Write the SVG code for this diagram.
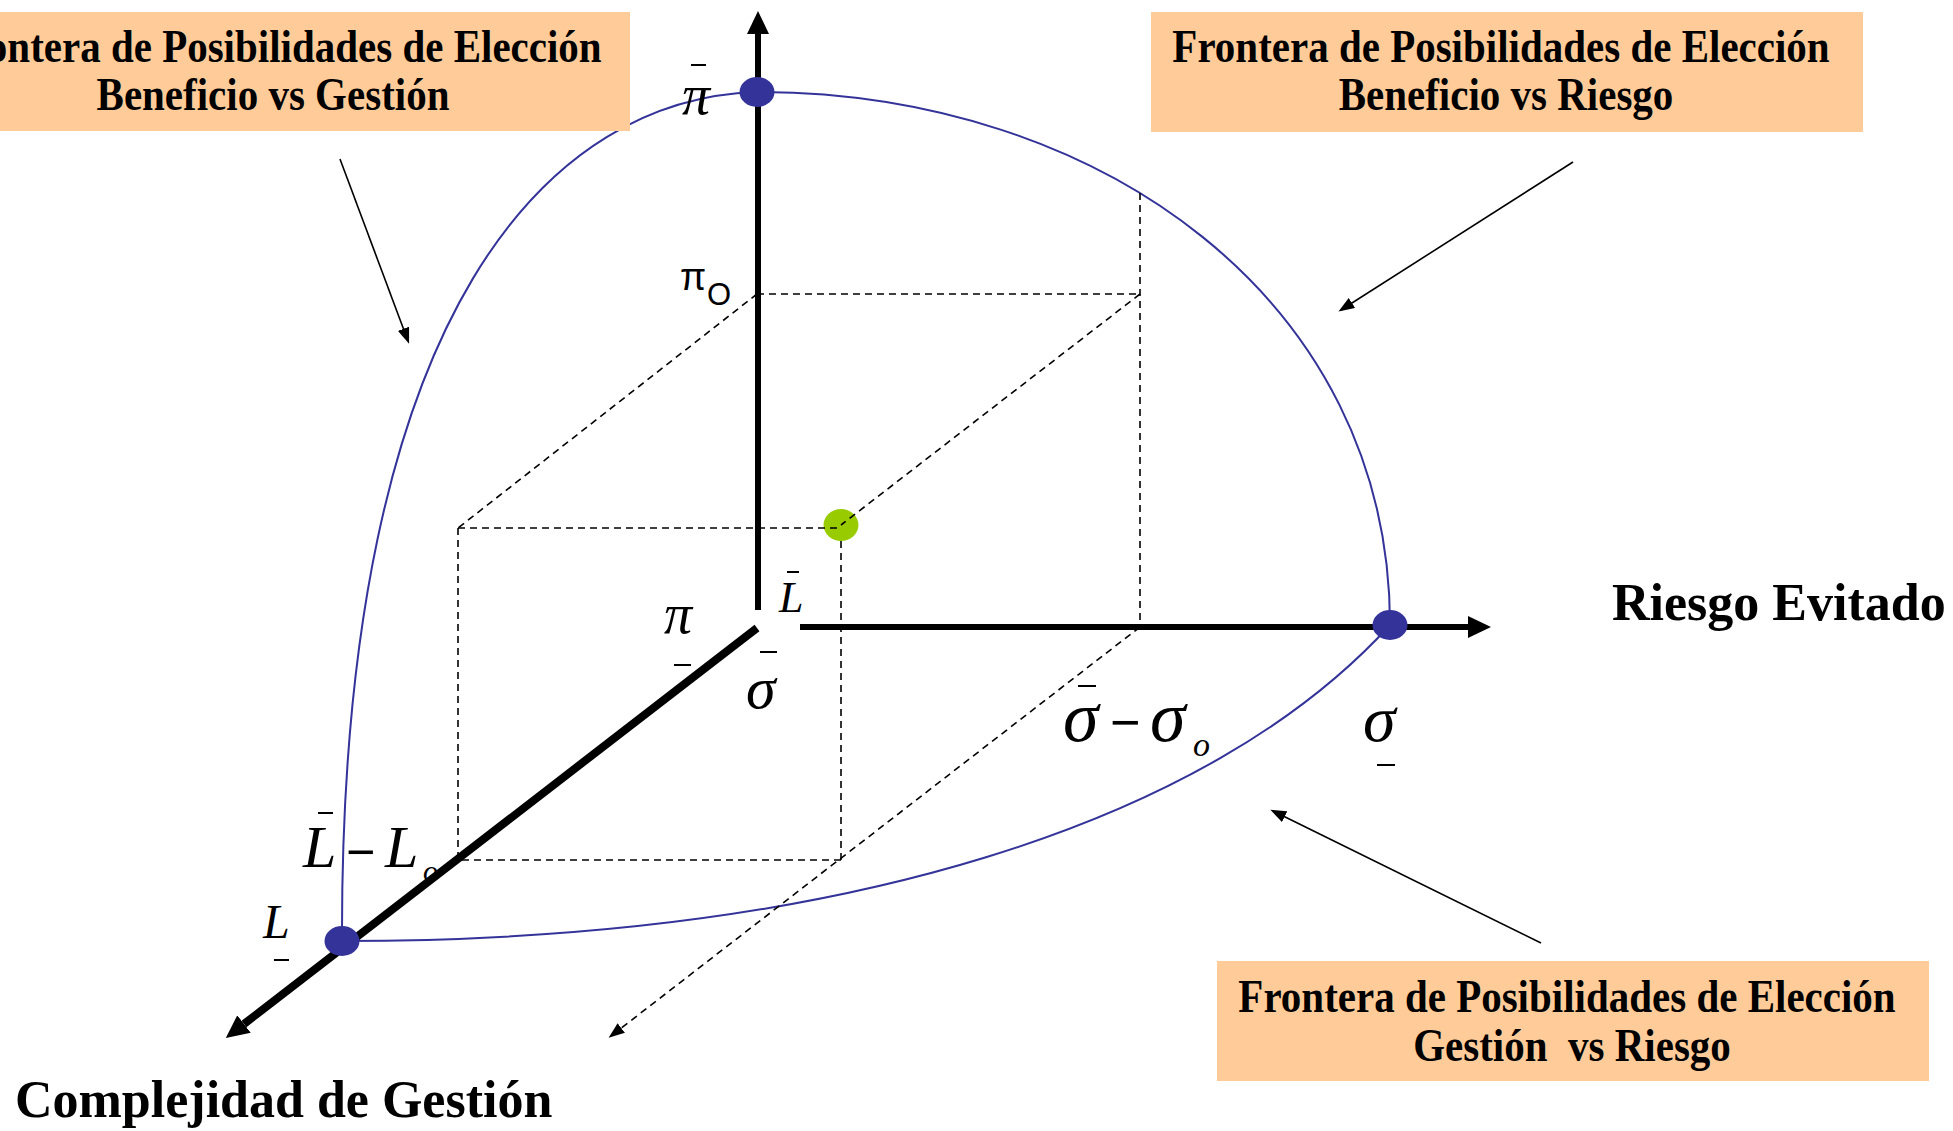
<svg xmlns="http://www.w3.org/2000/svg" width="1953" height="1131" viewBox="0 0 1953 1131">
<style>
.box{fill:#FFCC99;}
.bt{font-family:"Liberation Serif","Times New Roman",serif;font-weight:bold;font-size:41px;text-anchor:middle;fill:#000;}
.ax{font-family:"Liberation Serif","Times New Roman",serif;font-weight:bold;font-size:52px;fill:#000;}
.m{font-family:"Liberation Serif","Times New Roman",serif;font-style:italic;fill:#000;}
.s{font-family:"Liberation Sans",Arial,sans-serif;fill:#000;}
.axis{stroke:#000;fill:none;}
.curve{stroke:#333399;stroke-width:2;fill:none;}
.dash{stroke:#000;stroke-width:1.6;stroke-dasharray:7 5;fill:none;}
.thin{stroke:#000;stroke-width:1.6;fill:none;}
.bar{stroke:#000;stroke-width:2;}
.dot{fill:#333399;}
</style>
<defs>
<marker id="bigHead" markerUnits="userSpaceOnUse" markerWidth="24" markerHeight="22" refX="0" refY="11" orient="auto">
<path d="M0,0 L23,11 L0,22 z" fill="#000"/>
</marker>
<marker id="smallHead" markerUnits="userSpaceOnUse" markerWidth="16" markerHeight="12" refX="13" refY="6" orient="auto">
<path d="M0,0 L16,6 L0,12 z" fill="#000"/>
</marker>
</defs>
<rect width="1953" height="1131" fill="#fff"/>

<g id="connectors">
<!-- blue frontiers -->
<path class="curve" d="M757,92 C555,98 340,300 342,941"/>
<path class="curve" d="M757,92 C1100,92 1390,300 1390,625"/>
<path class="curve" d="M1390,625 C1210,823 842,941 342,941"/>
<!-- dashed construction lines -->
<path class="dash" d="M757,294 L1140,294"/>
<path class="dash" d="M1140,193 L1140,627"/>
<path class="dash" d="M757,294 L458,528"/>
<path class="dash" d="M458,528 L458,860 L841,860"/>
<path class="dash" d="M841,860 L841,525"/>
<path class="dash" d="M1140,627 L611,1036" marker-end="url(#smallHead)"/>
<!-- axes -->
<line class="axis" x1="758" y1="610" x2="758" y2="34" stroke-width="6" marker-end="url(#bigHead)"/>
<line class="axis" x1="800" y1="627" x2="1468" y2="627" stroke-width="6" marker-end="url(#bigHead)"/>
<line class="axis" x1="757" y1="628" x2="244" y2="1024" stroke-width="8" marker-end="url(#bigHead)"/>
<!-- pointer arrows -->
<line class="thin" x1="340" y1="159" x2="408" y2="341" marker-end="url(#smallHead)"/>
<line class="thin" x1="1573" y1="162" x2="1341" y2="310" marker-end="url(#smallHead)"/>
<line class="thin" x1="1541" y1="943" x2="1273" y2="811" marker-end="url(#smallHead)"/>
</g>

<g id="dot-top"><ellipse class="dot" cx="757" cy="92" rx="17.5" ry="15"/></g>
<g id="dot-right"><ellipse class="dot" cx="1390" cy="625" rx="17.5" ry="15"/></g>
<g id="dot-left"><ellipse class="dot" cx="342" cy="941" rx="17.5" ry="15"/></g>
<g id="dot-green">
<ellipse cx="841" cy="525" rx="17.5" ry="16" fill="#99CC00"/>
<path class="dash" d="M1140,294 L841,525 M458,528 L841,528"/>
</g>

<g id="box-beneficio-gestion">
<rect class="box" x="-10" y="12" width="640" height="119"/>
<text class="bt" transform="translate(273,62) scale(1,1.12)">Frontera de Posibilidades de Elección</text>
<text class="bt" transform="translate(273,110) scale(1,1.12)">Beneficio vs Gestión</text>
</g>
<g id="box-beneficio-riesgo">
<rect class="box" x="1151" y="12" width="712" height="120"/>
<text class="bt" transform="translate(1501,62) scale(1,1.12)">Frontera de Posibilidades de Elección</text>
<text class="bt" transform="translate(1506,110) scale(1,1.12)">Beneficio vs Riesgo</text>
</g>
<g id="box-gestion-riesgo">
<rect class="box" x="1217" y="961" width="712" height="120"/>
<text class="bt" transform="translate(1567,1012) scale(1,1.12)">Frontera de Posibilidades de Elección</text>
<text class="bt" transform="translate(1572,1061) scale(1,1.12)" xml:space="preserve">Gestión  vs Riesgo</text>
</g>

<g id="label-riesgo"><text class="ax" x="1612" y="620">Riesgo Evitado</text></g>
<g id="label-complejidad"><text class="ax" x="15" y="1117">Complejidad de Gestión</text></g>

<g id="math-labels">
<text class="m" x="682" y="114" font-size="56">π</text>
<line class="bar" x1="691" y1="65" x2="706" y2="65"/>
<text class="s" x="680" y="290" font-size="38">π</text>
<text class="s" x="707" y="305" font-size="31">O</text>
<text class="m" x="664" y="633" font-size="56">π</text>
<line class="bar" x1="674" y1="665" x2="691" y2="665"/>
<text class="m" x="779" y="612" font-size="44">L</text>
<line class="bar" x1="787" y1="572" x2="799" y2="572"/>
<text class="m" x="746" y="708" font-size="60">σ</text>
<line class="bar" x1="760" y1="652" x2="777" y2="652"/>
<text class="m" x="1063" y="741" font-size="72">σ</text>
<line class="bar" x1="1078" y1="686" x2="1096" y2="686"/>
<text class="s" x="1110" y="740" font-size="52">−</text>
<text class="m" x="1150" y="741" font-size="72">σ</text>
<text class="m" x="1193" y="756" font-size="34">o</text>
<text class="m" x="1363" y="741" font-size="66">σ</text>
<line class="bar" x1="1377" y1="765" x2="1395" y2="765"/>
<text class="m" x="303" y="867" font-size="60">L</text>
<line class="bar" x1="318" y1="813" x2="333" y2="813"/>
<text class="s" x="346" y="869" font-size="50">−</text>
<text class="m" x="385" y="867" font-size="60">L</text>
<text class="m" x="423" y="881" font-size="30">o</text>
<text class="m" x="263" y="938" font-size="48">L</text>
<line class="bar" x1="274" y1="960" x2="289" y2="960"/>
</g>
</svg>
